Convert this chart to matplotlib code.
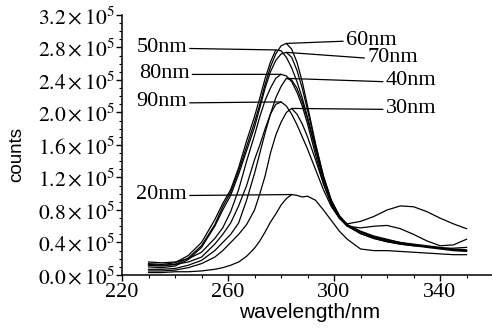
import numpy as np
import matplotlib
matplotlib.use("Agg")
import matplotlib.pyplot as plt
from matplotlib.ticker import MultipleLocator, FixedLocator

plt.rcParams['mathtext.fontset'] = 'stix'

# wavelength grid (nm) and spectra (counts, in units of 1e5)
wl = [230, 235, 240, 245, 250, 255, 258, 261, 264, 267, 270, 272, 274, 276, 278,
      280, 282, 284, 286, 288, 290, 293, 296, 299, 302, 305, 310, 315, 320, 325,
      330, 335, 340, 345, 350]

s50 = [0.14, 0.13, 0.15, 0.24, 0.40, 0.68, 0.88, 1.05, 1.32, 1.65, 1.95, 2.18, 2.42, 2.62, 2.77,
       2.76, 2.68, 2.55, 2.38, 2.18, 1.94, 1.55, 1.18, 0.90, 0.72, 0.61, 0.53, 0.47, 0.43, 0.40,
       0.37, 0.35, 0.33, 0.31, 0.30]
s60 = [0.12, 0.11, 0.13, 0.21, 0.36, 0.62, 0.84, 1.02, 1.28, 1.58, 1.88, 2.10, 2.35, 2.56, 2.72,
       2.82, 2.85, 2.78, 2.62, 2.38, 2.08, 1.62, 1.22, 0.92, 0.73, 0.62, 0.53, 0.46, 0.42, 0.39,
       0.37, 0.35, 0.33, 0.31, 0.30]
s70 = [0.10, 0.09, 0.11, 0.19, 0.34, 0.60, 0.80, 0.98, 1.24, 1.53, 1.82, 2.06, 2.30, 2.50, 2.64,
       2.72, 2.74, 2.68, 2.52, 2.30, 2.03, 1.60, 1.21, 0.91, 0.73, 0.62, 0.54, 0.48, 0.44, 0.40,
       0.38, 0.36, 0.34, 0.32, 0.31]
s80 = [0.16, 0.15, 0.16, 0.20, 0.28, 0.45, 0.58, 0.78, 1.05, 1.40, 1.72, 1.95, 2.15, 2.30, 2.42,
       2.47, 2.45, 2.38, 2.25, 2.08, 1.86, 1.48, 1.13, 0.87, 0.70, 0.60, 0.58, 0.60, 0.61, 0.57,
       0.50, 0.42, 0.36, 0.37, 0.44]
s90 = [0.13, 0.12, 0.13, 0.16, 0.22, 0.38, 0.50, 0.64, 0.85, 1.10, 1.42, 1.60, 1.80, 1.98, 2.10,
       2.13, 2.08, 1.98, 1.85, 1.70, 1.55, 1.30, 1.05, 0.84, 0.70, 0.63, 0.66, 0.72, 0.80, 0.85,
       0.84, 0.78, 0.70, 0.63, 0.57]
s40 = [0.07, 0.07, 0.08, 0.12, 0.18, 0.30, 0.40, 0.50, 0.64, 0.92, 1.25, 1.50, 1.75, 1.98, 2.18,
       2.32, 2.42, 2.40, 2.30, 2.13, 1.92, 1.55, 1.18, 0.90, 0.72, 0.61, 0.51, 0.45, 0.41, 0.38,
       0.36, 0.34, 0.32, 0.30, 0.29]
s30 = [0.05, 0.05, 0.06, 0.09, 0.14, 0.22, 0.30, 0.40, 0.50, 0.62, 0.80, 1.00, 1.22, 1.50, 1.72,
       1.88, 2.00, 2.05, 1.98, 1.86, 1.70, 1.42, 1.12, 0.87, 0.70, 0.60, 0.51, 0.45, 0.41, 0.38,
       0.36, 0.35, 0.33, 0.33, 0.34]
s20 = [0.03, 0.03, 0.04, 0.04, 0.05, 0.07, 0.09, 0.12, 0.16, 0.23, 0.33, 0.42, 0.53, 0.65, 0.75,
       0.86, 0.94, 0.99, 0.98, 0.96, 0.97, 0.92, 0.80, 0.67, 0.54, 0.44, 0.32, 0.30, 0.30, 0.29,
       0.28, 0.27, 0.26, 0.25, 0.25]

labels = ['50nm', '60nm', '70nm', '80nm', '90nm', '40nm', '30nm', '20nm']
series = [s50, s60, s70, s80, s90, s40, s30, s20]

# label anchor (nm, 1e5 counts) and side of the leader line
label_pos = [(244.5, 2.80), (304.5, 2.89), (312.5, 2.68), (245.5, 2.48),
             (244.5, 2.13), (319.5, 2.39), (319.5, 2.05), (244.5, 0.99)]
label_side = ['left', 'right', 'right', 'left', 'left', 'right', 'right', 'left']

serif = 'Liberation Serif'
sans = 'Liberation Sans'

fig = plt.figure(figsize=(4.92, 3.28), dpi=100)
ax = fig.add_axes([0.248, 0.1616, 0.752, 0.7927])

wl_arr = np.array(wl)
for name, s, pos, side in zip(labels, series, label_pos, label_side):
    v = np.array(s) * 1e5
    ax.plot(wl_arr, v, color='black', lw=0.9)
    i = int(np.argmax(v))
    ha = 'right' if side == 'left' else 'left'
    rel = (1.0, 0.45) if side == 'left' else (0.0, 0.45)
    ax.annotate(name, xy=(wl_arr[i], v[i]), xytext=(pos[0], pos[1] * 1e5),
                ha=ha, va='center', fontsize=16, family=serif,
                arrowprops=dict(arrowstyle='-', lw=0.9, color='black',
                                shrinkA=0, shrinkB=0, relpos=rel))

ax.set_xlim(220, 359.6)
ax.set_ylim(0, 3.2e5)
ax.xaxis.set_major_locator(FixedLocator([220, 260, 300, 340]))
ax.xaxis.set_minor_locator(MultipleLocator(10))
yt = np.arange(0, 3.21, 0.4)
ax.set_yticks(yt * 1e5)
ax.set_yticklabels([r'$%.1f\times10^5$' % t for t in yt])
ax.yaxis.set_minor_locator(MultipleLocator(0.1e5))

for lab in ax.get_xticklabels():
    lab.set_family(serif)
ax.tick_params(axis='both', which='major', direction='out', length=4, width=1, pad=1)
ax.tick_params(axis='both', which='minor', direction='out', length=2.5, width=0.8)
ax.tick_params(axis='x', labelsize=16, pad=2)
ax.tick_params(axis='y', labelsize=15.5)

for sp in ['top', 'right']:
    ax.spines[sp].set_visible(False)
for sp in ['left', 'bottom']:
    ax.spines[sp].set_linewidth(1.1)

fig.text(310 / 492, 1 - 312 / 328, 'wavelength/nm', family=sans, fontsize=15,
         ha='center', va='center')
fig.text(16.5 / 492, 1 - 155 / 328, 'counts', family=sans, fontsize=13.5,
         rotation=90, ha='center', va='center')

fig.savefig('out.png', dpi=100)
